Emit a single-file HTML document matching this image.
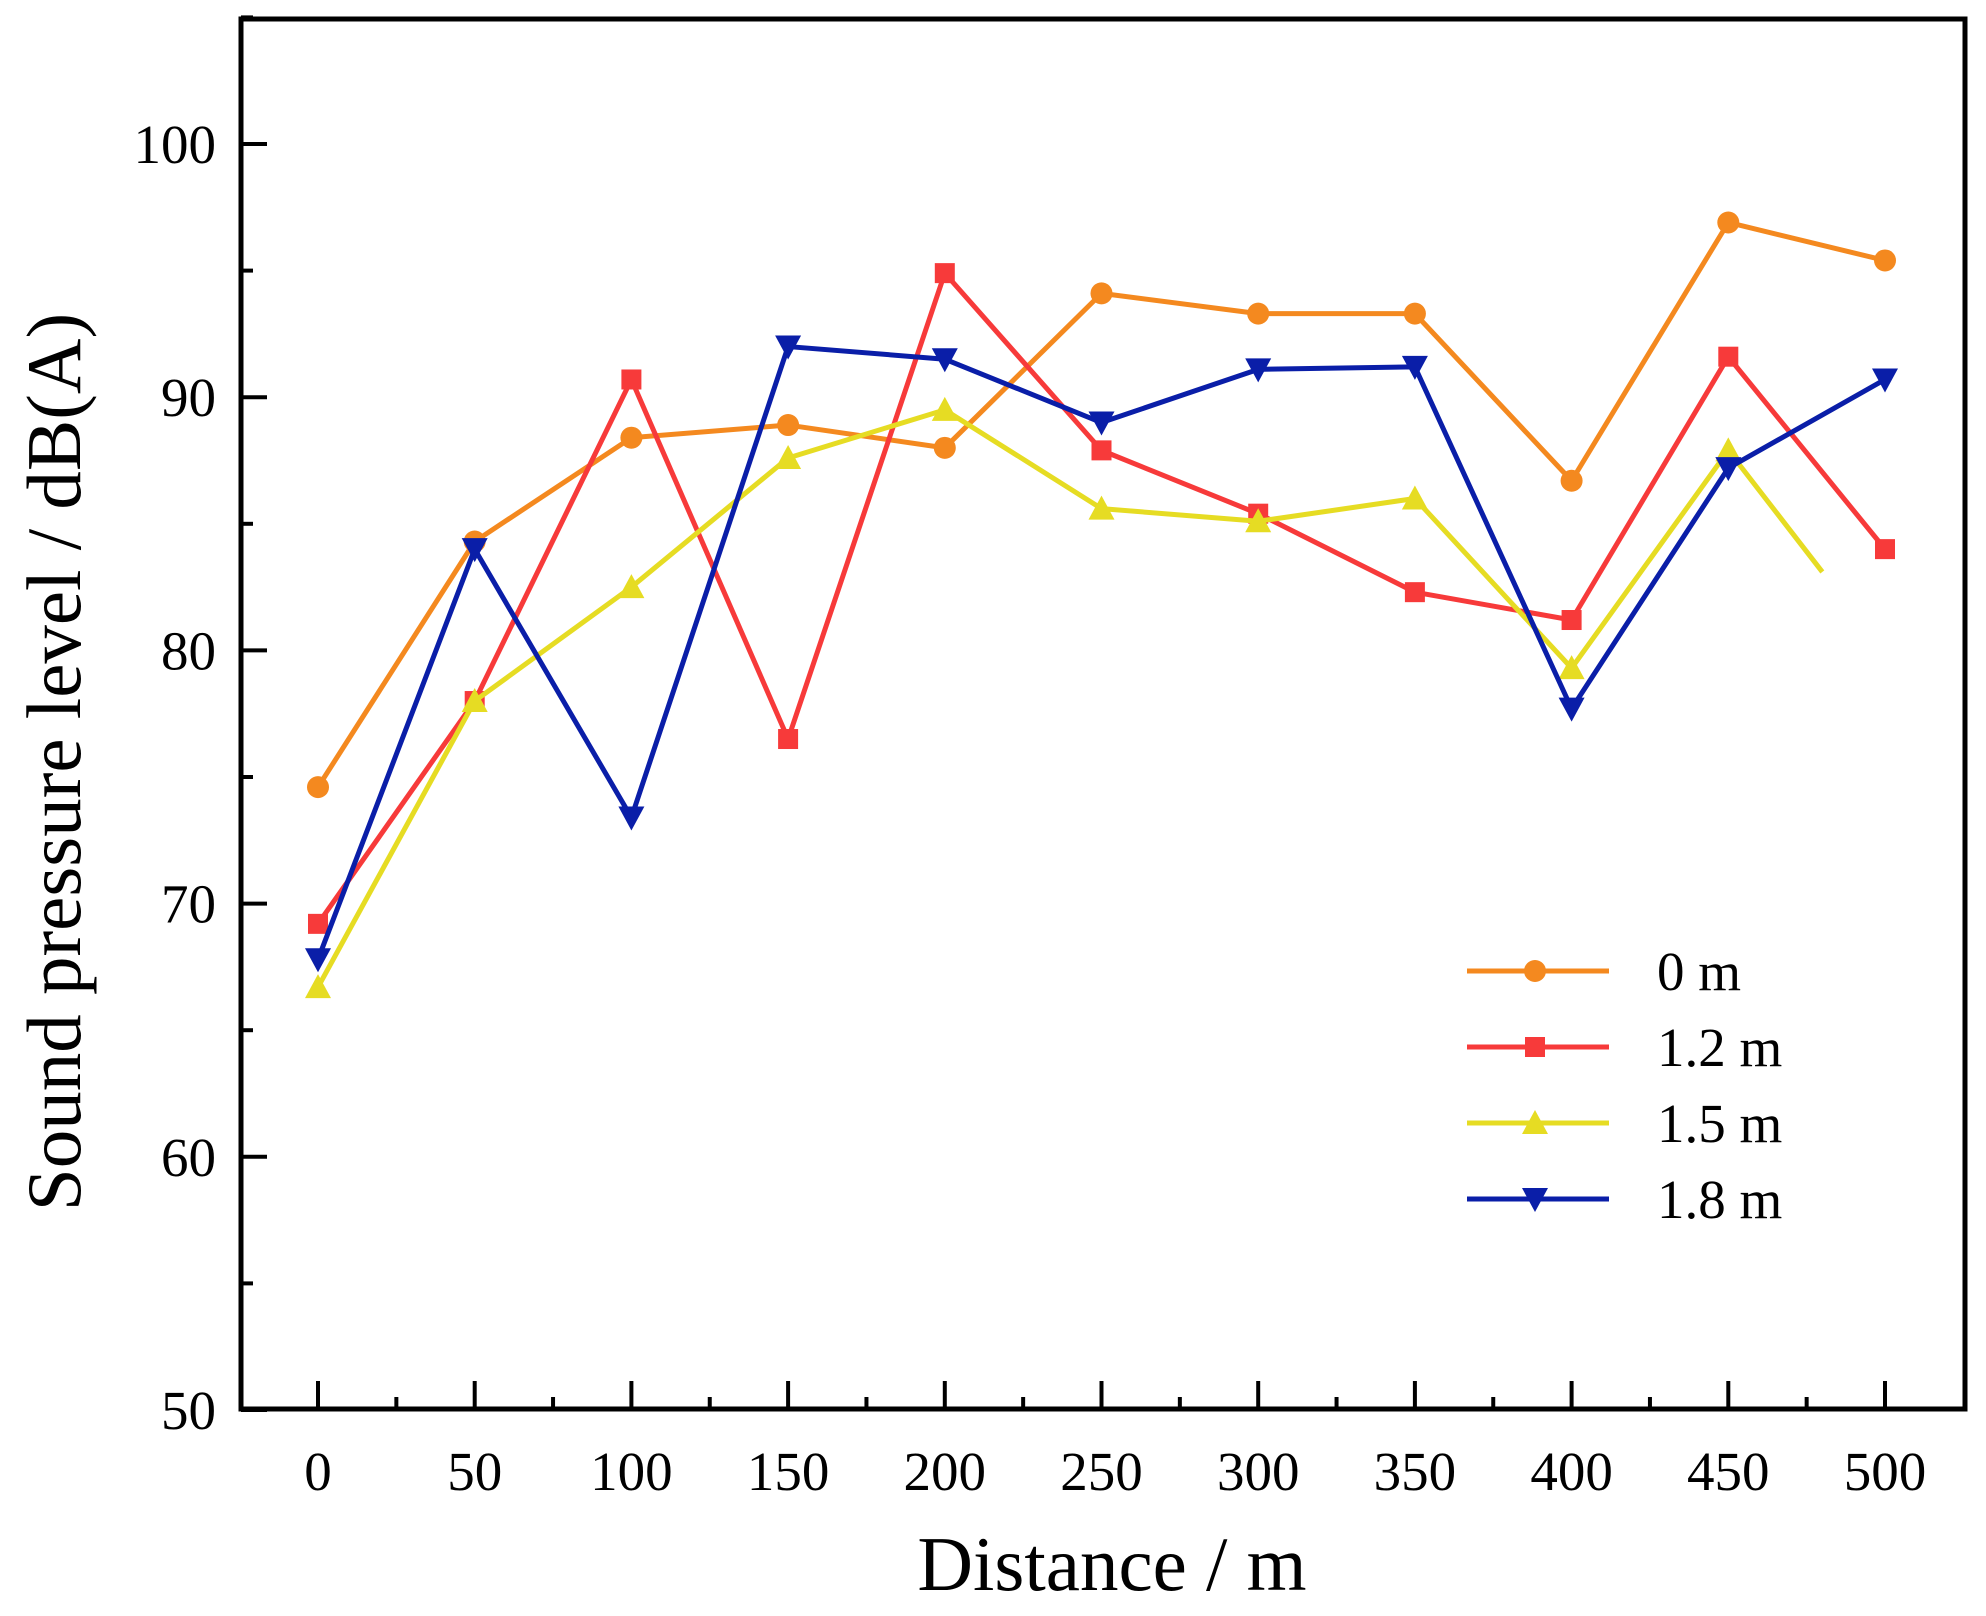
<!DOCTYPE html>
<html><head><meta charset="utf-8"><style>
html,body{margin:0;padding:0;background:#fff;}
svg{display:block;font-family:"Liberation Serif",serif;}
</style></head><body>
<svg id="chart" width="1986" height="1616" viewBox="0 0 1986 1616" xmlns="http://www.w3.org/2000/svg"></svg>
<script>
const categories=[0,50,100,150,200,250,300,350,400,450,500];
const s0=[74.6,84.3,88.4,88.9,88.0,94.1,93.3,93.3,86.7,96.9,95.4];
const s12=[69.2,78.0,90.7,76.5,94.9,87.9,85.4,82.3,81.2,91.6,84.0];
const s15=[66.7,78.0,82.5,87.6,89.5,85.6,85.1,86.0,79.3,87.9,79.9];
const s18=[67.8,84.0,73.4,92.0,91.5,89.0,91.1,91.2,77.7,87.2,90.7];
const yTicks=[50,60,70,80,90,100];
const xTicks=[0,50,100,150,200,250,300,350,400,450,500];
const seriesNames=["0 m","1.2 m","1.5 m","1.8 m"];

const NS="http://www.w3.org/2000/svg";
const svg=document.getElementById('chart');
const L=241,R=1965,T=19,B=1409;
function X(v){return 318+(v-0)*(1885-318)/500;}
function Y(v){return 1410-(v-50)*25.32;}
function mk(tag,attrs,parent){const e=document.createElementNS(NS,tag);for(const k in attrs)e.setAttribute(k,attrs[k]);(parent||svg).appendChild(e);return e;}

const frame=mk('rect',{x:L,y:T,width:R-L,height:B-T,fill:'none',stroke:'#000','stroke-width':5});



for(let v=50;v<=105;v+=5){
  const major=v%10===0;
  const t=mk('line',{x1:L,x2:L+(major?26:12),y1:Y(v),y2:Y(v),stroke:'#000','stroke-width':4});
  
  
}
yTicks.forEach(v=>{
  const t=mk('text',{x:216,y:Y(v)+19,'text-anchor':'end','font-size':55,fill:'#000'});
  t.textContent=v;
  
  
});
for(let v=0;v<=500;v+=25){
  const major=v%50===0;
  const t=mk('line',{x1:X(v),x2:X(v),y1:B,y2:B-(major?28:12),stroke:'#000','stroke-width':4});
  
  
}
xTicks.forEach(v=>{
  const t=mk('text',{x:X(v),y:1490,'text-anchor':'middle','font-size':55,fill:'#000'});
  t.textContent=v;
  
  
});
const xt=mk('text',{x:1112,y:1590,'text-anchor':'middle','font-size':77,fill:'#000'});
xt.textContent='Distance / m';


const yt=mk('text',{x:0,y:0,'text-anchor':'middle','font-size':77,fill:'#000',transform:'translate(80,762) rotate(-90)'});
yt.textContent='Sound pressure level / dB(A)';



function marker(type,x,y,color,g){
  let e;
  if(type==='circle')e=mk('circle',{cx:x,cy:y,r:11,fill:color},g);
  else if(type==='square')e=mk('rect',{x:x-10,y:y-10,width:20,height:20,fill:color},g);
  else if(type==='up')e=mk('polygon',{points:`${x},${y-13} ${x-13},${y+11} ${x+13},${y+11}`,fill:color},g);
  else e=mk('polygon',{points:`${x},${y+13} ${x-13},${y-11} ${x+13},${y-11}`,fill:color},g);
  
  
}
const series=[
  {vals:s0,color:'#f4891f',m:'circle',name:'series-0m'},
  {vals:s12,color:'#f73a3a',m:'square',name:'series-1-2m'},
  {vals:s15,color:'#e6dc23',m:'up',name:'series-1-5m',truncLast:0.6},
  {vals:s18,color:'#0a1ea8',m:'down',name:'series-1-8m'}
];
series.forEach((s,si)=>{
  const g=mk('g',{});
  
  
  const pts=s.vals.map((v,i)=>[X(categories[i]),Y(v)]);
  if(s.truncLast){
    const n=pts.length-1,a=pts[n-1],b=pts[n];
    pts[n]=[a[0]+(b[0]-a[0])*s.truncLast,a[1]+(b[1]-a[1])*s.truncLast];
  }
  const pl=mk('polyline',{points:pts.map(p=>p.join(',')).join(' '),fill:'none',stroke:s.color,'stroke-width':5,'stroke-linejoin':'round'},g);
  
  
  pts.forEach((p,i)=>{ if(s.truncLast&&i===pts.length-1)return; marker(s.m,p[0],p[1],s.color,g);});
  const ly=971+si*76;
  const lg=mk('g',{});
  
  
  mk('line',{x1:1467,x2:1609,y1:ly,y2:ly,stroke:s.color,'stroke-width':5},lg);
  marker(s.m,1535,ly,s.color,lg);
  const lt=mk('text',{x:1657,y:ly+19,'font-size':55,fill:'#000'},lg);
  lt.textContent=seriesNames[si];
});
</script>
</body></html>
